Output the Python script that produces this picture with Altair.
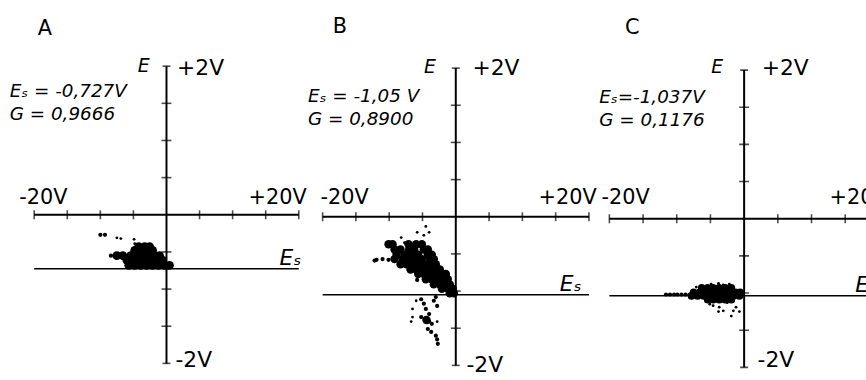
import altair as alt
import pandas as pd

FONT = "DejaVu Sans"

# ---- measured values -------------------------------------------------------
PANEL_LETTERS = ["A", "B", "C"]
ES_VALUES = [-0.727, -1.05, -1.037]
ES_TEXT = ["Eₛ = -0,727V", "Eₛ = -1,05 V", "Eₛ=-1,037V"]
G_TEXT = ["G = 0,9666", "G = 0,8900", "G = 0,1176"]

X_TICKS = [-20, -15, -10, -5, 5, 10, 15, 20]
Y_TICKS = [-1.5, -1.0, -0.5, 0.5, 1.0, 1.5]
Y_CAPS = [-2.0, 2.0]

# panel A: dense cloud (volts on the sweep axis, E in volts)
A_CORE_V = [-5.7, -4.8, -3.9, -3.0, -2.1, -1.2, -0.3, 0.45,
            -6.0, -5.1, -4.2, -3.3, -2.4, -1.5, -0.6,
            -7.5, -6.6, -5.4, -4.5, -3.6, -2.7, -1.8, -1.05,
            -4.8, -3.9, -3.0, -2.1,
            -4.2, -3.3, -2.55]
A_CORE_E = [-0.68] * 8 + [-0.61] * 7 + [-0.55] * 8 + [-0.48] * 4 + [-0.43] * 3
A_FLECK_V = [-10.0, -9.3, -8.4, 0.15]
A_FLECK_E = [-0.27, -0.27, -0.55, -0.71]
A_DOT_V = [-7.5, -6.9, -4.9, -4.8]
A_DOT_E = [-0.31, -0.32, -0.33, -0.39]

# panel B
B_CORE_V = [-10.1, -9.5, -7.1, -5.95, -5.1,
            -9.2, -8.3, -7.0, -6.25, -4.8, -4.2,
            -8.9, -7.7, -6.8, -5.65, -4.2, -3.6,
            -9.2, -8.0, -7.1, -6.25, -5.1, -3.9, -3.3,
            -8.3, -7.4, -6.5, -5.65, -4.8, -3.9, -3.0,
            -6.8, -5.95, -5.1, -4.2, -3.3, -2.4,
            -5.65, -4.8, -3.9, -3.0, -2.1, -1.5,
            -4.5, -3.6, -2.7, -1.8, -1.2,
            -3.3, -2.4, -1.5, -0.9,
            -2.1, -1.2, -0.45,
            -0.9, -0.3,
            -4.4]
B_CORE_E = ([-0.37] * 5 + [-0.44] * 6 + [-0.51] * 6 + [-0.57] * 7 + [-0.64] * 7
            + [-0.71] * 6 + [-0.77] * 6 + [-0.84] * 5 + [-0.91] * 4 + [-0.97] * 3
            + [-1.03] * 2 + [-1.39])
B_FLECK_V = [-12.2, -11.9, -11.0, -10.1,
             -5.2, -4.8, -4.5, -4.0, -3.3, -2.8,
             -5.2, -4.6, -4.0, -3.6,
             -4.2, -3.7, -3.0, -2.8, -2.7, -3.0, -5.8]
B_FLECK_E = [-0.59, -0.58, -0.57, -0.58,
             -1.11, -1.17, -1.24, -1.31, -1.13, -1.20,
             -1.35, -1.37, -1.41, -1.44,
             -1.51, -1.55, -1.60, -1.65, -1.71, -1.08, -0.85]
B_DOT_V = [-4.5, -4.0, -5.8, -4.8, -8.2, -7.7, -5.95, -6.5, -6.5, -6.7, -2.8]
B_DOT_E = [-0.13, -0.21, -0.21, -0.25, -0.28, -0.35, -1.13, -1.24, -1.35, -1.41, -1.41]

# panel C
C_CORE_V = [-6.3, -5.4, -4.6, -3.7, -2.8, -1.9,
            -7.5, -6.6, -5.7, -4.9, -4.0, -3.1, -2.2, -1.3, -0.6,
            -7.8, -6.9, -6.0, -5.1, -4.3, -3.4, -2.5, -1.6, -0.7,
            -5.4, -4.6, -3.7, -2.8, -1.9]
C_CORE_E = [-0.93] * 6 + [-0.99] * 9 + [-1.04] * 9 + [-1.09] * 5
C_FLECK_V = [-11.6, -11.0, -10.4, -9.9, -9.3, -8.7, -8.1]
C_FLECK_E = [-1.02] * 7
C_DOT_V = [-4.9, -3.8, -3.1, -2.2, -7.1, -5.1, -4.6, -3.7, -3.8, -3.1,
           -1.6, -1.2, -1.9, -0.7, -2.5]
C_DOT_E = [-0.88, -0.87, -0.89, -0.88, -0.92, -1.15, -1.17, -1.19, -1.25, -1.24,
           -1.24, -1.19, -1.31, -1.25, -1.13]

CLOUDS = [
    (A_CORE_V, A_CORE_E, A_FLECK_V, A_FLECK_E, A_DOT_V, A_DOT_E),
    (B_CORE_V, B_CORE_E, B_FLECK_V, B_FLECK_E, B_DOT_V, B_DOT_E),
    (C_CORE_V, C_CORE_E, C_FLECK_V, C_FLECK_E, C_DOT_V, C_DOT_E),
]

# ---- panel layout (plot-area size and visible window of each oscillogram) --
LAYOUT = [
    dict(width=305, xdom=[-25.17, 20.52], ydom=[-2.2, 2.867], core=80, clip=False,
         letter=(-18.4, 2.5), e=(-3.45, 2.0), top=(1.6, 1.97), bottom=(1.35, -1.95),
         left=(-18.6, 0.23), right=(16.8, 0.23), es=17.1, note=(-23.7, 1.67, 1.36)),
    dict(width=291, xdom=[-21.875, 21.43], ydom=[-2.173, 2.893], core=72, clip=False,
         letter=(-17.4, 2.55), e=(-3.9, 2.01), top=(2.5, 2.0), bottom=(1.6, -2.0),
         left=(-16.7, 0.25), right=(16.8, 0.25), es=15.6, note=(-22.2, 1.62, 1.31)),
    dict(width=270, xdom=[-21.62, 18.09], ydom=[-2.147, 2.92], core=60, clip=True,
         letter=(-16.6, 2.56), e=(-4.0, 2.04), top=(2.6, 2.03), bottom=(2.0, -1.9),
         left=(-17.6, 0.28), right=(17.0, 0.28), es=16.5, note=(-21.5, 1.64, 1.33)),
]
HEIGHT = 380


def panel(i):
    lay = LAYOUT[i]
    clip = lay["clip"]
    xs = alt.Scale(domain=lay["xdom"], nice=False, zero=False)
    ys = alt.Scale(domain=lay["ydom"], nice=False, zero=False)

    def X(f="v"):
        return alt.X(f"{f}:Q", scale=xs, axis=None)

    def Y(f="e"):
        return alt.Y(f"{f}:Q", scale=ys, axis=None)

    es = ES_VALUES[i]
    layers = []

    # horizontal (sweep) axis and its tick marks
    hax = pd.DataFrame({"v": [-20], "v2": [20], "e": [0]})
    layers.append(alt.Chart(hax).mark_rule(color="black", strokeWidth=2, clip=clip)
                  .encode(x=X(), x2="v2:Q", y=Y()))
    xt = pd.DataFrame({"v": X_TICKS, "e": [0] * len(X_TICKS)})
    layers.append(alt.Chart(xt).mark_tick(orient="vertical", color="black", size=9,
                                          thickness=1.6, clip=clip)
                  .encode(x=X(), y=Y()))

    # vertical (E) axis, ticks and end caps
    vax = pd.DataFrame({"v": [0], "e": [-2.0], "e2": [2.0]})
    layers.append(alt.Chart(vax).mark_rule(color="black", strokeWidth=2, clip=clip)
                  .encode(x=X(), y=Y(), y2="e2:Q"))
    yt = pd.DataFrame({"v": [0] * len(Y_TICKS), "e": Y_TICKS})
    layers.append(alt.Chart(yt).mark_tick(orient="horizontal", color="black", size=10,
                                          thickness=1.6, clip=clip)
                  .encode(x=X(), y=Y()))
    yc = pd.DataFrame({"v": [0, 0], "e": Y_CAPS})
    layers.append(alt.Chart(yc).mark_tick(orient="horizontal", color="black", size=8,
                                          thickness=1.6, clip=clip)
                  .encode(x=X(), y=Y()))

    # line at the steady-state potential Es
    esl = pd.DataFrame({"v": [-20], "v2": [20], "e": [es]})
    layers.append(alt.Chart(esl).mark_rule(color="black", strokeWidth=1.6, clip=clip)
                  .encode(x=X(), x2="v2:Q", y=Y()))

    # the trace cloud
    cv, ce, fv, fe, dv, de = CLOUDS[i]
    for vv, ee, size in ((cv, ce, lay["core"]), (fv, fe, 18), (dv, de, 8)):
        df = pd.DataFrame({"v": vv, "e": ee})
        layers.append(alt.Chart(df).mark_circle(color="black", opacity=1, size=size,
                                                clip=clip)
                      .encode(x=X(), y=Y()))

    def text(rows, size, align, italic=False, baseline="middle", dy=0):
        df = pd.DataFrame(rows, columns=["v", "e", "label"])
        return (alt.Chart(df)
                .mark_text(font=FONT, fontSize=size, align=align, baseline=baseline,
                           fontStyle="italic" if italic else "normal", color="black",
                           dy=dy, clip=clip)
                .encode(x=X(), y=Y(), text="label:N"))

    lx, ly = lay["letter"]
    layers.append(text([(lx, ly, PANEL_LETTERS[i])], 21, "center"))
    layers.append(text([(lay["left"][0], lay["left"][1], "-20V"),
                        (lay["right"][0], lay["right"][1], "+20V")], 21, "center"))
    layers.append(text([(lay["top"][0], lay["top"][1], "+2V"),
                        (lay["bottom"][0], lay["bottom"][1], "-2V")], 22, "left"))
    layers.append(text([(lay["e"][0], lay["e"][1], "E")], 19, "center", italic=True))
    nx, n1, n2 = lay["note"]
    layers.append(text([(nx, n1, ES_TEXT[i]), (nx, n2, G_TEXT[i])], 18.5, "left",
                       italic=True))
    layers.append(text([(lay["es"], es, "Eₛ")], 22, "left", italic=True,
                       baseline="alphabetic", dy=-4))

    return alt.layer(*layers).properties(width=lay["width"], height=HEIGHT)


chart = (alt.hconcat(panel(0), panel(1), panel(2), spacing=0)
         .properties(padding=0, background="white")
         .configure_view(stroke=None))

chart.save("out.html", embed_options={"renderer": "svg", "actions": False})
